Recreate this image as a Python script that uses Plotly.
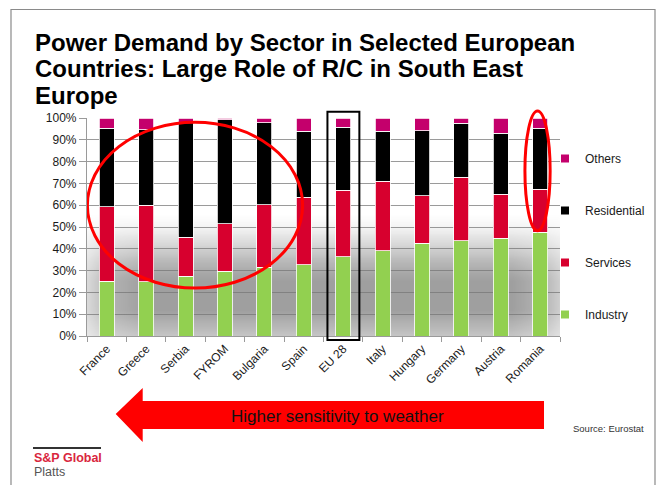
import numpy as np
import plotly.graph_objects as go

# ---- data: share of power demand by sector (%) ----
countries = ["France", "Greece", "Serbia", "FYROM", "Bulgaria", "Spain",
             "EU 28", "Italy", "Hungary", "Germany", "Austria", "Romania"]
industry = [25.1, 24.9, 27.4, 29.8, 31.5, 32.7, 36.4, 39.1, 42.5, 43.7, 44.8, 47.7]
services = [34.2, 35.0, 18.0, 21.7, 28.6, 30.9, 30.4, 32.0, 21.9, 29.1, 20.2, 19.6]
residential = [36.0, 34.6, 52.4, 47.6, 37.8, 30.3, 28.9, 22.8, 29.8, 24.8, 28.0, 28.0]
others = [4.7, 5.5, 2.2, 0.9, 2.1, 6.1, 4.3, 6.1, 5.8, 2.4, 7.0, 4.7]
y_ticks = [0, 10, 20, 30, 40, 50, 60, 70, 80, 90, 100]
y_tick_labels = ["0%", "10%", "20%", "30%", "40%", "50%", "60%", "70%", "80%", "90%", "100%"]

COLORS = {"Industry": "#92D050", "Services": "#D7002E",
          "Residential": "#000000", "Others": "#C4006C"}

# ---- page geometry (pixels) ----
W, H = 658, 485
L, R, T, B = 87, 560, 118, 336          # plot area edges
PW, PH = R - L, B - T


def px(x):
    return (x - L) / PW


def py(y):
    return (B - y) / PH


fig = go.Figure()

# soft grey shadow behind the lower part of the plot area
u = np.linspace(0, 1, 60)
v = np.linspace(0, 100, 60)
fx = np.interp(u, [0, 0.05, 0.12, 0.9, 0.97, 1.0], [0.4, 0.8, 1.0, 1.0, 0.75, 0.5])
fy = np.interp(v, [0, 6, 12, 26, 34, 42, 50, 56, 100],
               [0.6, 0.8, 1.0, 1.0, 0.75, 0.42, 0.12, 0.0, 0.0])
fig.add_trace(go.Heatmap(
    x=-0.5 + 12 * u, y=v, z=np.outer(fy, fx), zmin=0, zmax=1, zsmooth="best",
    colorscale=[[0, "rgba(118,118,118,0)"], [1, "rgba(118,118,118,0.7)"]],
    showscale=False, hoverinfo="skip", xaxis="x", yaxis="y"))

# stacked bars
for name, vals in [("Industry", industry), ("Services", services),
                   ("Residential", residential), ("Others", others)]:
    fig.add_trace(go.Bar(
        x=countries, y=vals, name=name, xaxis="x2", yaxis="y2",
        marker=dict(color=COLORS[name], line=dict(color="white", width=0.8)),
        showlegend=False))

# legend entries (square markers), top to bottom
for name in ["Others", "Residential", "Services", "Industry"]:
    fig.add_trace(go.Scatter(
        x=[None], y=[None], mode="markers", name=name, legendgroup=name,
        marker=dict(symbol="square", size=8, color=COLORS[name]),
        xaxis="x", yaxis="y"))

axis_font = dict(family="Liberation Sans, Arial, sans-serif", size=12, color="#1a1a1a")

shapes = [
    # highlighted group of South-East European countries
    dict(type="circle", xref="x", yref="y", x0=-0.49, x1=4.97, y0=22.0, y1=98.0,
         line=dict(color="#FF0000", width=3)),
    # EU 28 reference box
    dict(type="rect", xref="x", yref="paper", x0=5.6, x1=6.41, y0=py(340), y1=py(111.7),
         line=dict(color="#000000", width=2)),
    # Romania highlight
    dict(type="circle", xref="x", yref="paper", x0=10.61, x1=11.25, y0=py(230.7), y1=py(111),
         line=dict(color="#FF0000", width=3)),
    # arrow pointing left
    dict(type="path", xref="paper", yref="paper",
         path=("M {},{} L {},{} L {},{} L {},{} L {},{} L {},{} L {},{} Z".format(
             px(115.7), py(414), px(142.7), py(388), px(142.7), py(401),
             px(544), py(401), px(544), py(429), px(142.7), py(429),
             px(142.7), py(442))),
         fillcolor="#FF0000", line=dict(width=0)),
    # logo rule
    dict(type="line", xref="paper", yref="paper", x0=px(33), x1=px(101), y0=py(448), y1=py(448),
         line=dict(color="#333333", width=2)),
    # page frame
    dict(type="rect", xref="paper", yref="paper", x0=px(11), x1=px(655), y0=py(500), y1=py(9.5),
         line=dict(color="#8a8a8a", width=1.2), layer="below"),
]

title_lines = ["Power Demand by Sector in Selected European",
               "Countries: Large Role of R/C in South East",
               "Europe"]
title_y = [42, 68.7, 95.3]
annotations = []
for text, yy in zip(title_lines, title_y):
    annotations.append(dict(
        text="<b>" + text + "</b>", xref="paper", yref="paper", x=px(33), y=py(yy),
        xanchor="left", yanchor="middle", showarrow=False,
        font=dict(family="Liberation Sans, Arial, sans-serif", size=24, color="#000000")))

annotations += [
    dict(text="Higher sensitivity to weather", xref="paper", yref="paper",
         x=px(337), y=py(416), xanchor="center", yanchor="middle", showarrow=False,
         font=dict(family="Liberation Sans, Arial, sans-serif", size=17, color="#111111")),
    dict(text="Source: Eurostat", xref="paper", yref="paper",
         x=px(608.5), y=py(428), xanchor="center", yanchor="middle", showarrow=False,
         font=dict(family="Liberation Sans, Arial, sans-serif", size=9.5, color="#333333")),
    dict(text="<b>S&P Global</b>", xref="paper", yref="paper",
         x=px(32), y=py(457.5), xanchor="left", yanchor="middle", showarrow=False,
         font=dict(family="Liberation Sans, Arial, sans-serif", size=12.5, color="#D9263D")),
    dict(text="Platts", xref="paper", yref="paper",
         x=px(32), y=py(472), xanchor="left", yanchor="middle", showarrow=False,
         font=dict(family="Liberation Sans, Arial, sans-serif", size=12.5, color="#555555")),
]

fig.update_layout(
    width=W, height=H,
    margin=dict(l=L, r=W - R, t=T, b=H - B, pad=0, autoexpand=False),
    paper_bgcolor="white", plot_bgcolor="white",
    barmode="stack", bargap=0.62,
    xaxis=dict(range=[-0.5, 11.5], visible=False, fixedrange=True),
    yaxis=dict(range=[0, 100], tickvals=y_ticks, ticktext=y_tick_labels,
               showgrid=True, gridcolor="#9a9a9a", gridwidth=1.2,
               showline=True, linecolor="#9a9a9a", linewidth=1.2,
               ticks="outside", ticklen=7, tickcolor="#9a9a9a", tickwidth=1.2,
               zeroline=False, tickfont=axis_font, automargin=False),
    xaxis2=dict(type="category", overlaying="x", side="bottom", anchor="y2",
                range=[-0.5, 11.5], showline=True, linecolor="#9a9a9a", linewidth=1.2,
                ticks="outside", tickson="boundaries", ticklen=5,
                tickcolor="#9a9a9a", tickwidth=1.2, tickangle=-45,
                showgrid=False, tickfont=axis_font, automargin=False),
    yaxis2=dict(range=[0, 100], overlaying="y", anchor="x2", visible=False),
    legend=dict(x=px(545), y=py(144), xanchor="left", yanchor="top",
                traceorder="grouped", tracegroupgap=33,
                font=axis_font, bgcolor="rgba(0,0,0,0)"),
    shapes=shapes, annotations=annotations,
)

fig.write_html("out.html")
